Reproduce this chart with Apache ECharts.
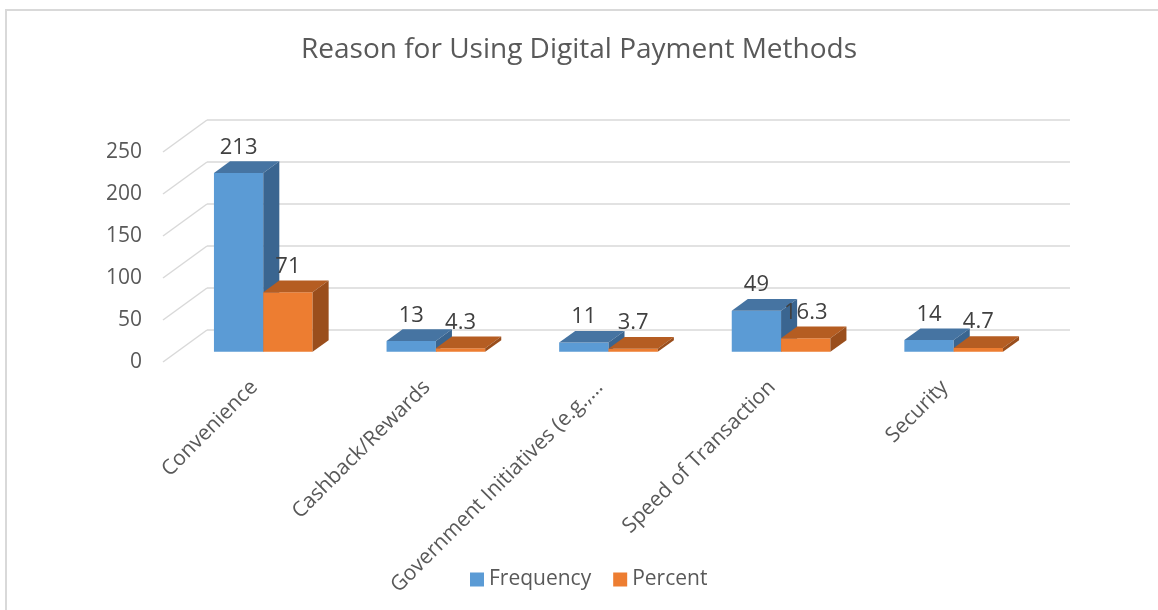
<!DOCTYPE html>
<html>
<head>
<meta charset="utf-8">
<style>
  html, body { margin: 0; padding: 0; background: #ffffff; }
  #chart { width: 1158px; height: 610px; }
</style>
<script src="https://cdn.jsdelivr.net/npm/echarts@6/dist/echarts.min.js"></script>
</head>
<body>
<div id="chart"></div>
<script>
// Survey responses: why people use digital payment methods
const categories = ['Convenience', 'Cashback/Rewards', 'Government Initiatives (e.g.,…', 'Speed of Transaction', 'Security'];
const frequency = [213, 13, 11, 49, 14];
const percent = [71, 4.3, 3.7, 16.3, 4.7];
const yMin = 0, yMax = 250, yStep = 50;
const seriesNames = ['Frequency', 'Percent'];

// Oblique projection: offset from the back wall to the front edge of the floor
const DEPTH = [-44, 32];
// Columns sit in the middle of the depth
const FRONT = [DEPTH[0] * 0.6825, DEPTH[1] * 0.6825];
const BACK = [DEPTH[0] * 0.3175, DEPTH[1] * 0.3175];
const GAP = 1.5; // gap width, as a fraction of one column's width

const FONT = '"Open Sans", Lato, sans-serif';
const palette = [
  { front: '#5B9BD5', top: '#4674A2', side: '#3A6590' },
  { front: '#ED7D31', top: '#B55D22', side: '#9A4E1C' }
];

// Back wall grid and front plane grid share the same scales
const back = { left: 207, right: 88, top: 120, bottom: 280 };
const front = {
  left: back.left + DEPTH[0], right: back.right - DEPTH[0],
  top: back.top + DEPTH[1], bottom: back.bottom - DEPTH[1]
};
// Category labels hang a little to the right of the column pairs
const labelPlane = Object.assign({}, front, { left: front.left + 5, right: front.right - 5 });

function yTicks() {
  const t = [];
  for (let v = yMin; v <= yMax; v += yStep) t.push(v);
  return t;
}

function columnRenderer(si) {
  const c = palette[si];
  return function (params, api) {
    const i = api.value(0), v = api.value(1);
    const base = api.coord([i, 0]);
    const top = api.coord([i, v]);
    const band = api.size([1, 0])[0];
    const w = band / (2 + GAP);
    const xL = base[0] + (si === 0 ? -w : 0) + FRONT[0];
    const yT = top[1] + FRONT[1];
    const yB = base[1] + FRONT[1];
    const dx = BACK[0] - FRONT[0], dy = BACK[1] - FRONT[1];
    const label = String(v);
    return {
      type: 'group',
      children: [
        { type: 'rect', shape: { x: xL, y: yT, width: w, height: yB - yT }, style: { fill: c.front } },
        { type: 'polygon', shape: { points: [[xL, yT], [xL + w, yT], [xL + w + dx, yT + dy], [xL + dx, yT + dy]] }, style: { fill: c.top } },
        { type: 'polygon', shape: { points: [[xL + w, yT], [xL + w + dx, yT + dy], [xL + w + dx, yB + dy], [xL + w, yB]] }, style: { fill: c.side } },
        { type: 'text', z2: 10, style: { text: label, x: xL + w / 2, y: yT + dy - 14, align: 'center', verticalAlign: 'middle', fill: '#404040', font: '22px ' + FONT } }
      ]
    };
  };
}

function sideWallRenderer(params, api) {
  const y = api.coord([0, api.value(1)])[1];
  const x = params.coordSys.x;
  return {
    type: 'line',
    shape: { x1: x, y1: y, x2: x + DEPTH[0], y2: y + DEPTH[1] },
    style: { stroke: '#D9D9D9', lineWidth: 1.5 }
  };
}

const chart = echarts.init(document.getElementById('chart'), null, { renderer: 'canvas' });

chart.setOption({
  backgroundColor: '#ffffff',
  animation: false,
  title: {
    text: 'Reason for Using Digital Payment Methods',
    left: 'center', top: 31,
    textStyle: { fontFamily: FONT, fontSize: 28, fontWeight: 'normal', color: '#595959' }
  },
  legend: {
    data: seriesNames,
    bottom: 15, left: 465,
    icon: 'rect', itemWidth: 14, itemHeight: 14, itemGap: 22,
    textStyle: { fontFamily: FONT, fontSize: 21, color: '#595959' }
  },
  graphic: [
    { type: 'rect', shape: { x: 6, y: 10, width: 1200, height: 700 }, style: { fill: 'none', stroke: '#D9D9D9', lineWidth: 2 }, silent: true }
  ],
  grid: [
    Object.assign({}, back),
    Object.assign({}, front),
    labelPlane
  ],
  xAxis: [
    { type: 'category', gridIndex: 0, data: categories, axisLine: { show: false }, axisTick: { show: false }, axisLabel: { show: false } },
    { type: 'category', gridIndex: 1, data: categories, axisLine: { show: false }, axisTick: { show: false }, axisLabel: { show: false } },
    {
      type: 'category', gridIndex: 2, data: categories,
      axisLine: { show: false }, axisTick: { show: false },
      axisLabel: { rotate: 45, margin: 22, interval: 0, fontFamily: FONT, fontSize: 21, color: '#595959' }
    }
  ],
  yAxis: [
    {
      type: 'value', gridIndex: 0, min: yMin, max: yMax, interval: yStep,
      axisLine: { show: false }, axisTick: { show: false }, axisLabel: { show: false },
      splitLine: { show: true, lineStyle: { color: '#D9D9D9', width: 1.5 } }
    },
    {
      type: 'value', gridIndex: 1, min: yMin, max: yMax, interval: yStep,
      axisLine: { show: false }, axisTick: { show: false }, splitLine: { show: false },
      axisLabel: { margin: 21, fontFamily: FONT, fontSize: 21, color: '#595959' }
    },
    {
      type: 'value', gridIndex: 2, min: yMin, max: yMax, interval: yStep, show: false
    }
  ],
  series: [
    {
      type: 'custom', name: 'wall', xAxisIndex: 0, yAxisIndex: 0, silent: true, z: 1,
      renderItem: sideWallRenderer,
      data: yTicks().map(v => [0, v])
    },
    {
      type: 'custom', name: seriesNames[0], xAxisIndex: 0, yAxisIndex: 0, z: 3,
      itemStyle: { color: palette[0].front },
      renderItem: columnRenderer(0),
      data: frequency.map((v, i) => [i, v])
    },
    {
      type: 'custom', name: seriesNames[1], xAxisIndex: 0, yAxisIndex: 0, z: 4,
      itemStyle: { color: palette[1].front },
      renderItem: columnRenderer(1),
      data: percent.map((v, i) => [i, v])
    }
  ]
});
</script>
</body>
</html>
